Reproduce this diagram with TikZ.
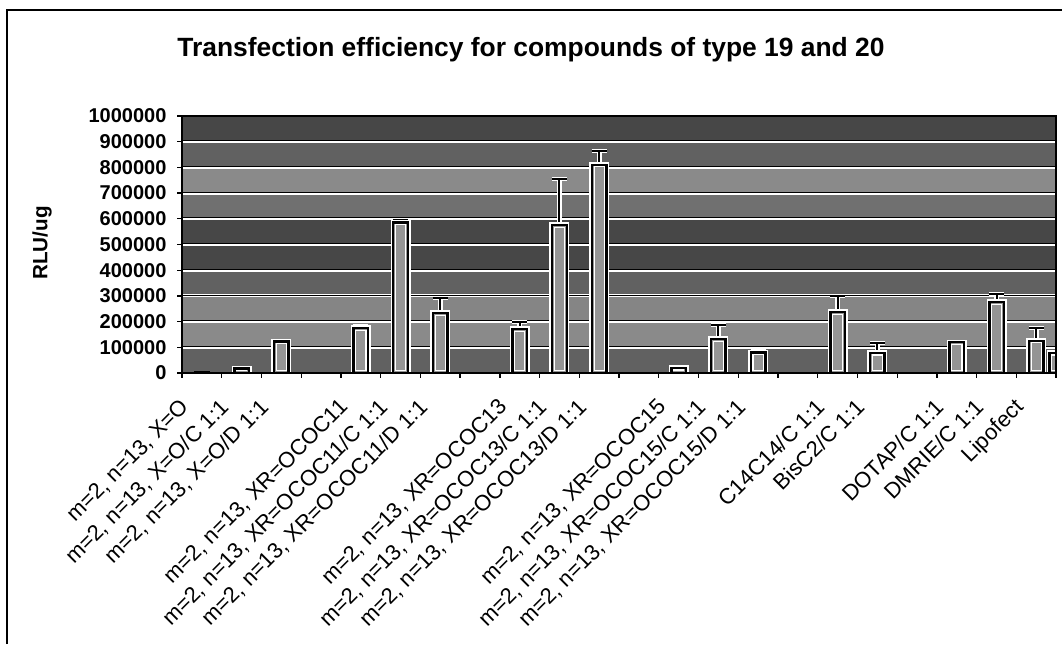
\documentclass[tikz,border=0pt]{standalone}
\usepackage{fontspec}
\setmainfont{Liberation Sans}
\begin{document}
\begin{tikzpicture}[x=0.75pt, y=-0.75pt,
    ticklabel/.style ={font=\fontsize{15}{15}\selectfont\bfseries, anchor=east, inner sep=0pt},
    catlabel/.style ={font=\fontsize{16.5}{16.5}\selectfont, rotate=45, anchor=north east, inner sep=0pt},
    halo/.style ={draw=white, line width=4pt},
    column/.style ={draw=black, line width=1.9pt, fill=black!42},
    ring/.style ={draw=white, line width=0.8pt},
    whisker/.style ={draw=black, line width=1.5pt}]
   \useasboundingbox (0,0) rectangle (1062,644);
   % chart frame, only top and left edges show
   \draw[line width=0.9pt] (7,644) -- (7,10) -- (1062,10);
   \node[font=\fontsize{19.8}{19.8}\selectfont\bfseries] (title) at (531,50)
     {Transfection efficiency for compounds of type 19 and 20};
   \node[font=\fontsize{15.5}{15.5}\selectfont\bfseries, rotate=90] (ylabel) at (42,243) {RLU/ug};
   % plot area: one unit = one category across, one thousand RLU/ug up
   \begin{scope}[shift={(182,373)}, x=29.8pt, y=0.19275pt]
     \foreach \r/\s in {0/62,1/46,2/48,3/62,4/72,5/72,6/56,7/46,8/62,9/72}
       \fill[black!\s] (0,\r*100) rectangle (22,\r*100+100);
     \foreach \v in {100,200,...,900} {
       \draw[white, line width=2.2pt] (0,\v) -- (22,\v);
       \draw[black, line width=0.6pt] ([yshift=0.7pt]0,\v) -- ([yshift=0.7pt]22,\v);
     }
     \begin{scope}
       \clip (0,-20) rectangle (22,1000);
       % tiny first column
       \draw[column, line width=1.2pt] (0.316,0) rectangle (0.684,4);
       \foreach \i/\v/\e in {2/18/18, 3/122/122, 5/175/181, 6/585/596, 7/233/292,
           9/171/198, 10/576/755, 11/810/864, 13/20/20, 14/132/187, 15/80/86,
           17/237/300, 18/78/117, 20/120/120, 21/276/307, 22/125/175} {
         \ifdim\e pt>\v pt
           \draw[white, line width=3.5pt] (\i-0.5,\v) -- (\i-0.5,\e)
             (\i-0.69,\e) -- (\i-0.31,\e);
           \draw[whisker] (\i-0.5,\v) -- (\i-0.5,\e) (\i-0.69,\e) -- (\i-0.31,\e);
         \fi
         \draw[halo] (\i-0.684,0) rectangle (\i-0.316,\v);
         \draw[column] (\i-0.684,0) rectangle (\i-0.316,\v);
         \draw[ring] (\i-0.63,8) rectangle (\i-0.37,\v-8);
       }
       % column cut off at the right edge
       \draw[halo] (21.83,0) rectangle (22.2,78);
       \draw[column] (21.83,0) rectangle (22.2,78);
       \draw[ring] (21.88,8) rectangle (22.2,70);
     \end{scope}
     % frame of the plot area and axes
     \draw[line width=1.8pt] (0,1000) -- (22,1000) -- (22,0);
     \draw[line width=1.3pt] (0,1000) -- (0,0) -- (22,0);
     \foreach \v in {0,100,...,1000} {
       \draw[line width=1pt] ([xshift=-3.75pt]0,\v) -- (0,\v);
       \node[ticklabel] (ytick\v) at ([xshift=-11.5pt]0,\v) {\ifnum\v=0 0\else\v000\fi};
     }
     \foreach \i in {0,...,22}
       \draw[line width=1pt] (\i,0) -- ([yshift=-3.75pt]\i,0);
     \foreach \i/\txt in {1/{m=2, n=13, X=O}, 2/{m=2, n=13, X=O/C 1:1},
         3/{m=2, n=13, X=O/D 1:1}, 5/{m=2, n=13, XR=OCOC11},
         6/{m=2, n=13, XR=OCOC11/C 1:1}, 7/{m=2, n=13, XR=OCOC11/D 1:1},
         9/{m=2, n=13, XR=OCOC13}, 10/{m=2, n=13, XR=OCOC13/C 1:1},
         11/{m=2, n=13, XR=OCOC13/D 1:1}, 13/{m=2, n=13, XR=OCOC15},
         14/{m=2, n=13, XR=OCOC15/C 1:1}, 15/{m=2, n=13, XR=OCOC15/D 1:1},
         17/{C14C14/C 1:1}, 18/{BisC2/C 1:1}, 20/{DOTAP/C 1:1},
         21/{DMRIE/C 1:1}, 22/{Lipofect}}
       \node[catlabel] (cat\i) at ([xshift=-17pt, yshift=-18pt]\i-0.5,0) {\txt};
   \end{scope}
 \end{tikzpicture}
\end{document}
